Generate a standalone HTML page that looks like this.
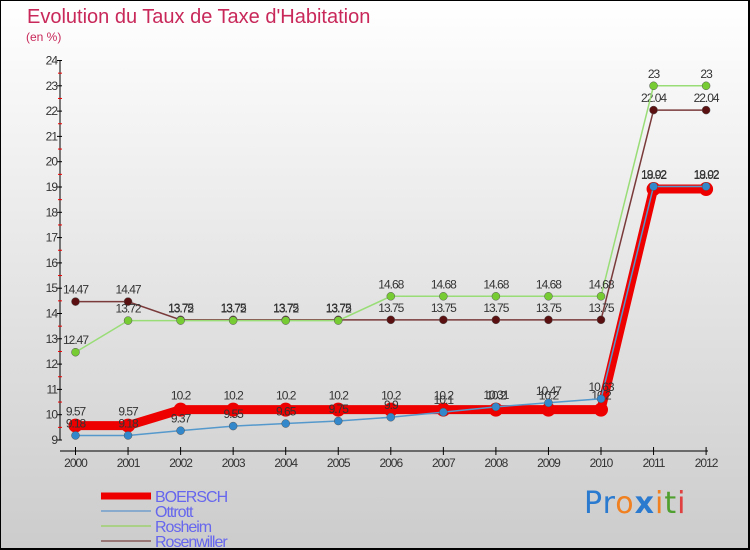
<!DOCTYPE html>
<html><head><meta charset="utf-8"><style>
body{margin:0;}
#wrap{width:750px;height:550px;box-sizing:border-box;border:1px solid #000;border-width:1px 2px 2px 1px;background:linear-gradient(#fff,#ccc);position:relative;overflow:hidden;font-family:"Liberation Sans",sans-serif;}
.t{position:absolute;color:#c8285a;}
</style></head><body>
<div id="wrap">
<div class="t" style="left:26px;top:5px;font-size:20px;">Evolution du Taux de Taxe d'Habitation</div>
<div class="t" style="left:25px;top:29px;font-size:12px;">(en %)</div>
<svg id="svg" width="750" height="550" style="position:absolute;left:-1px;top:-1px"></svg>
<div style="position:absolute;left:583px;top:485px;font-size:30px;font-family:'DejaVu Sans',sans-serif;letter-spacing:1px"><span style="color:#2a7ad0">Pr</span><span style="color:#f08020">o</span><span style="color:#2a7ad0;font-weight:bold">x</span><span style="color:#f08020">i</span><span style="color:#50a030">t</span><span style="color:#e04040">i</span></div>
</div>
<script>
const years=[2000,2001,2002,2003,2004,2005,2006,2007,2008,2009,2010,2011,2012];
const yTicks=[9,10,11,12,13,14,15,16,17,18,19,20,21,22,23,24];
const boersch=[9.57,9.57,10.2,10.2,10.2,10.2,10.2,10.2,10.2,10.2,10.2,18.92,18.92];
const ottrott=[9.18,9.18,9.37,9.55,9.65,9.75,9.9,10.1,10.31,10.47,10.63,19.02,19.02];
const rosheim=[12.47,13.72,13.72,13.72,13.72,13.72,14.68,14.68,14.68,14.68,14.68,23,23];
const rosenwiller=[14.47,14.47,13.75,13.75,13.75,13.75,13.75,13.75,13.75,13.75,13.75,22.04,22.04];
const NS="http://www.w3.org/2000/svg";
const svg=document.getElementById('svg');
const X=i=>75.5+i*52.55;
const Y=v=>440-(v-9)*25.3;
function el(t,a,p){const e=document.createElementNS(NS,t);for(const k in a)e.setAttribute(k,a[k]);(p||svg).appendChild(e);return e;}
// axes
let ax=el('line',{x1:60,y1:Y(24),x2:60,y2:Y(9),stroke:'#000','stroke-width':1});


let xx=el('line',{x1:60,y1:451,x2:708,y2:451,stroke:'#000','stroke-width':1});


yTicks.forEach(v=>{
  el('line',{x1:57,y1:Y(v),x2:62,y2:Y(v),stroke:'#000'});
  if(v<24){el('line',{x1:58,y1:Y(v+0.5),x2:62,y2:Y(v+0.5),stroke:'#e00'});}
  const t=el('text',{x:57,y:Y(v)+4,'text-anchor':'end','font-size':12,fill:'#333','letter-spacing':'-1'});
  t.textContent=v;
  
  
});
years.forEach((y,i)=>{
  el('line',{x1:X(i),y1:447,x2:X(i),y2:455,stroke:'#000'});
  const t=el('text',{x:X(i),y:467,'text-anchor':'middle','font-size':12,fill:'#333','letter-spacing':'-1'});
  t.textContent=y;
  
  
});
const series=[
 {name:'rosenwiller',d:rosenwiller,c:'#7a3a3a',f:'#5a1010',w:1.5,r:4},
 {name:'rosheim',d:rosheim,c:'#99dd77',f:'#77cc33',w:1.5,r:4},
 {name:'boersch',d:boersch,c:'#ee0000',f:'#ee0000',w:9,r:7},
 {name:'ottrott',d:ottrott,c:'#5599cc',f:'#3388cc',w:1.5,r:4}
];
series.forEach(s=>{
  const g=el('g',{});
  
  
  const p=el('polyline',{points:s.d.map((v,i)=>X(i)+','+Y(v)).join(' '),fill:'none',stroke:s.c,'stroke-width':s.w},g);
  
  
  s.d.forEach((v,i)=>{
    const c=el('circle',{cx:X(i),cy:Y(v),r:s.r,fill:s.f,stroke:s.r>5?'none':'#555','stroke-width':0.5},g);
    
    
    const t=el('text',{x:X(i),y:Y(v)-(s.r>5?10:8),'text-anchor':'middle','font-size':12,fill:'#333','letter-spacing':'-1'},g);
    t.textContent=v;
    
    
  });
});
// legend
const leg=[['BOERSCH','#ee0000',7],['Ottrott','#88aacc',2],['Rosheim','#aad088',2],['Rosenwiller','#997777',2]];
leg.forEach((l,i)=>{
  const y=496+i*15;
  const g=el('g',{});
  
  
  el('line',{x1:101,y1:y,x2:151,y2:y,stroke:l[1],'stroke-width':l[2]},g);
  const t=el('text',{x:155,y:y+6,'font-size':16,fill:'#6666ee','letter-spacing':'-1'},g);
  t.textContent=l[0];
});
</script>
</body></html>
